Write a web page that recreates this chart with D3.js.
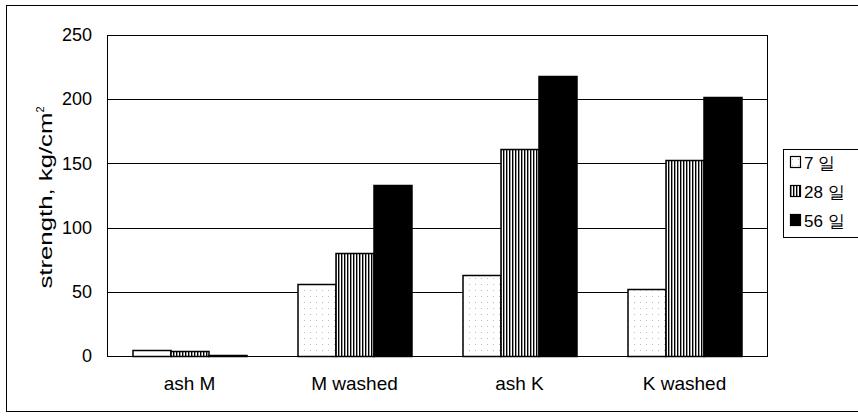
<!DOCTYPE html>
<html>
<head>
<meta charset="utf-8">
<script src="https://cdn.jsdelivr.net/npm/d3@7"></script>
<style>
  body { margin: 0; background: #fff; }
  svg { display: block; }
  text { font-family: "Liberation Sans", Arial, sans-serif; fill: #000; }
</style>
</head>
<body>
<div id="chart"></div>
<script>
// chart values
const categories = ["ash M", "M washed", "ash K", "K washed"];
const seriesNames = ["7 일", "28 일", "56 일"];
const day7 = [5, 56, 63, 52];
const day28 = [4, 80, 161, 153];
const day56 = [1, 133, 218, 202];
const yTicks = [0, 50, 100, 150, 200, 250];

const series = [day7, day28, day56];

const width = 858, height = 416;
const plot = { left: 107, top: 35, right: 767, bottom: 356 };

const svg = d3.select("#chart").append("svg")
    .attr("width", width)
    .attr("height", height);

// fill patterns: dotted white, vertical stripes, solid black
const defs = svg.append("defs");
const dots = defs.append("pattern")
    .attr("id", "dots")
    .attr("patternUnits", "userSpaceOnUse")
    .attr("width", 6).attr("height", 6);
dots.append("rect").attr("width", 6).attr("height", 6).attr("fill", "#fff");
dots.append("rect").attr("x", 2).attr("y", 2).attr("width", 1).attr("height", 1).attr("fill", "#bbb");

const stripes = defs.append("pattern")
    .attr("id", "stripes")
    .attr("patternUnits", "userSpaceOnUse")
    .attr("width", 3).attr("height", 4);
stripes.append("rect").attr("width", 3).attr("height", 4).attr("fill", "#fff");
stripes.append("rect").attr("width", 1.4).attr("height", 4).attr("fill", "#000");

const fills = ["url(#dots)", "url(#stripes)", "#000"];

// outer frame
svg.append("rect")
    .attr("x", 6.5).attr("y", 5.5)
    .attr("width", 855).attr("height", 406)
    .attr("fill", "none")
    .attr("stroke", "#000")
    .attr("stroke-width", 1);

const x = d3.scaleBand()
    .domain(categories)
    .range([plot.left, plot.right])
    .paddingInner(0)
    .paddingOuter(0);

const barW = 38;
const xs = d3.scaleBand()
    .domain(d3.range(series.length))
    .range([(x.bandwidth() - barW * 3) / 2, (x.bandwidth() + barW * 3) / 2]);

const y = d3.scaleLinear()
    .domain([0, 250])
    .range([plot.bottom, plot.top]);

// gridlines
svg.append("g")
    .selectAll("line")
    .data(yTicks.filter(d => d > 0))
    .join("line")
    .attr("x1", plot.left).attr("x2", plot.right)
    .attr("y1", d => Math.round(y(d)) + 0.5)
    .attr("y2", d => Math.round(y(d)) + 0.5)
    .attr("stroke", "#000")
    .attr("stroke-width", 1);

// plot area border
svg.append("rect")
    .attr("x", plot.left + 0.5).attr("y", Math.round(y(250)) + 0.5)
    .attr("width", plot.right - plot.left)
    .attr("height", Math.round(y(0)) - Math.round(y(250)))
    .attr("fill", "none")
    .attr("stroke", "#000")
    .attr("stroke-width", 1);

// bars
const groups = svg.append("g")
    .selectAll("g")
    .data(categories)
    .join("g")
    .attr("transform", d => `translate(${x(d)},0)`);

groups.selectAll("rect")
    .data((d, i) => series.map((s, k) => ({ k, v: s[i] })))
    .join("rect")
    .attr("x", d => xs(d.k) + 0.5)
    .attr("width", xs.bandwidth())
    .attr("y", d => Math.round(y(d.v)) + 0.5)
    .attr("height", d => Math.round(y(0)) - Math.round(y(d.v)))
    .attr("fill", d => fills[d.k])
    .attr("stroke", "#000")
    .attr("stroke-width", 1.5);

// y axis labels
const yAxis = d3.axisLeft(y).tickValues(yTicks).tickSize(0).tickPadding(15);
const yg = svg.append("g")
    .attr("transform", `translate(${plot.left},0)`)
    .call(yAxis);
yg.select(".domain").remove();
yg.selectAll("text")
    .style("font-size", "18px")
    .attr("font-family", "Liberation Sans, Arial, sans-serif");

// x axis labels
const xAxis = d3.axisBottom(x).tickSize(0).tickPadding(21);
const xg = svg.append("g")
    .attr("transform", `translate(0,${plot.bottom})`)
    .call(xAxis);
xg.select(".domain").remove();
xg.selectAll("text")
    .style("font-size", "19px")
    .attr("font-family", "Liberation Sans, Arial, sans-serif");

// y axis title
const yt = svg.append("text")
    .attr("transform", `translate(52,${(plot.top + plot.bottom) / 2 + 2}) rotate(-90)`)
    .attr("text-anchor", "middle")
    .style("font-size", "18px");
yt.append("tspan").text("strength, kg/cm")
    .attr("textLength", 176)
    .attr("lengthAdjust", "spacingAndGlyphs");
yt.append("tspan").attr("dy", -8).style("font-size", "11px").text("2");

// legend
const legend = svg.append("g").attr("transform", "translate(783,149)");
legend.append("rect")
    .attr("x", 0.5).attr("y", 0.5)
    .attr("width", 80).attr("height", 88)
    .attr("fill", "#fff")
    .attr("stroke", "#000");
const items = legend.selectAll("g.item")
    .data(seriesNames)
    .join("g")
    .attr("class", "item")
    .attr("transform", (d, i) => `translate(7,${14 + i * 29})`);
items.append("rect")
    .attr("x", 0.5).attr("y", -6.5)
    .attr("width", 10).attr("height", 11)
    .attr("fill", (d, i) => fills[i])
    .attr("stroke", "#000")
    .attr("stroke-width", 1.2);
items.append("text")
    .attr("x", 14)
    .attr("y", 6)
    .style("font-size", "17px")
    .text(d => d);
</script>
</body>
</html>
